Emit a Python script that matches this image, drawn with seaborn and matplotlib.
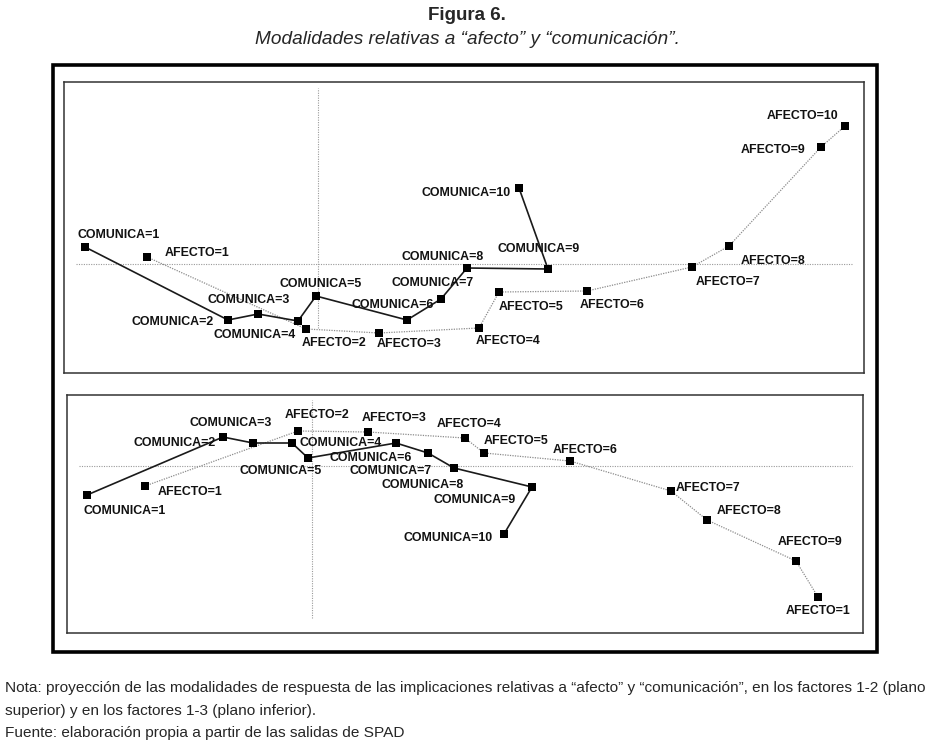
import numpy as np
import matplotlib
matplotlib.use('Agg')
import matplotlib.pyplot as plt
import pandas as pd
import seaborn as sns
from matplotlib import font_manager
from matplotlib.patches import Rectangle

sns.set_style('white')
plt.rcParams['font.family'] = ['Liberation Sans', 'DejaVu Sans']

# ---- datos (plano factorial 1-2, arriba) ----
niveles = list(range(1, 11))

com12_x = [-2.33, -0.90, -0.60, -0.20, -0.02, 0.89, 1.23, 1.49, 2.30, 2.01]
com12_y = [0.17, -0.56, -0.50, -0.57, -0.32, -0.56, -0.35, -0.04, -0.05, 0.76]
afe12_x = [-1.71, -0.12, 0.61, 1.61, 1.81, 2.69, 3.74, 4.11, 5.03, 5.27]
afe12_y = [0.07, -0.65, -0.69, -0.64, -0.28, -0.27, -0.03, 0.18, 1.17, 1.38]

# ---- plano factorial 1-3, abajo ----
com13_x = [-2.25, -0.89, -0.59, -0.20, -0.04, 0.84, 1.16, 1.42, 2.20, 1.92]
com13_y = [-0.29, 0.29, 0.23, 0.23, 0.08, 0.23, 0.13, -0.02, -0.21, -0.68]
afe13_x = [-1.67, -0.14, 0.56, 1.53, 1.72, 2.58, 3.59, 3.95, 4.84, 5.06]
afe13_y = [-0.20, 0.35, 0.34, 0.28, 0.13, 0.05, -0.25, -0.54, -0.95, -1.31]

etiq_com = ['COMUNICA=%d' % n for n in niveles]
etiq_afe12 = ['AFECTO=%d' % n for n in niveles]
etiq_afe13 = ['AFECTO=%d' % n for n in niveles[:-1]] + ['AFECTO=1']  # recortada en el original

# desplazamiento de etiquetas (px, y hacia abajo)
off_com12 = [(-8, -12), (-96, 2), (-51, -14), (-85, 14), (-37, -12), (-55, -15), (-49, -16), (-65, -11), (-50, -20), (-98, 5)]
off_afe12 = [(18, -4), (-4, 14), (-2, 11), (-3, 13), (0, 15), (-7, 14), (4, 15), (12, 15), (-80, 3), (-78, -10)]
off_com13 = [(-4, 16), (-89, 6), (-64, -20), (8, 0), (-69, 13), (-66, 15), (-78, 18), (-72, 17), (-98, 13), (-100, 4)]
off_afe13 = [(13, 6), (-13, -16), (-6, -14), (-28, -14), (0, -12), (-17, -11), (5, -3), (10, -9), (-18, -19), (-32, 14)]

W, H = 935, 749
fig = plt.figure(figsize=(W / 100, H / 100), dpi=100)


def caja(x0, y0, x1, y1):
    return [x0 / W, 1 - y1 / H, (x1 - x0) / W, (y1 - y0) / H]


def panel(ax, cx, cy, ax_, ay_, ecom, eafe, ocom, oafe, xlim, ylim, hx, vy):
    df_c = pd.DataFrame({'x': cx, 'y': cy})
    df_a = pd.DataFrame({'x': ax_, 'y': ay_})
    # ejes de referencia punteados
    ax.plot(hx, [0, 0], color='#9a9a9a', lw=0.8, ls=(0, (1, 1.2)), zorder=1)
    ax.plot([0, 0], vy, color='#9a9a9a', lw=0.8, ls=(0, (1, 1.2)), zorder=1)
    sns.lineplot(data=df_a, x='x', y='y', sort=False, estimator=None, ax=ax,
                 color='#8c8c8c', lw=0.9, ls=(0, (1, 1)), zorder=2)
    sns.lineplot(data=df_c, x='x', y='y', sort=False, estimator=None, ax=ax,
                 color='#1a1a1a', lw=1.2, zorder=3)
    for d in (df_a, df_c):
        sns.scatterplot(data=d, x='x', y='y', marker='s', s=32, color='black',
                        edgecolor='black', linewidth=0, ax=ax, zorder=4)
    for xs, ys, labs, offs in ((cx, cy, ecom, ocom), (ax_, ay_, eafe, oafe)):
        for x, y, t, (dx, dy) in zip(xs, ys, labs, offs):
            ax.annotate(t, (x, y), xytext=(dx, -dy), textcoords='offset pixels',
                        ha='left', va='center', fontsize=8.9, fontweight='bold',
                        color='#111111', zorder=5)
    ax.set_xlim(xlim)
    ax.set_ylim(ylim)
    ax.set_xticks([])
    ax.set_yticks([])
    ax.set_xlabel('')
    ax.set_ylabel('')
    for s in ax.spines.values():
        s.set_color('#333333')
        s.set_linewidth(1.1)


ax1 = fig.add_axes(caja(64, 82, 864, 373))
panel(ax1, com12_x, com12_y, afe12_x, afe12_y, etiq_com, etiq_afe12, off_com12, off_afe12,
      (-2.54, 5.46), (-1.09, 1.82), [-2.42, 5.35], [-0.64, 1.76])

ax2 = fig.add_axes(caja(67, 395, 863, 633))
panel(ax2, com13_x, com13_y, afe13_x, afe13_y, etiq_com, etiq_afe13, off_com13, off_afe13,
      (-2.45, 5.51), (-1.67, 0.71), [-2.33, 5.40], [-1.52, 0.66])

# marco exterior grueso
fig.patches.append(Rectangle((53 / W, 1 - 652 / H), (877 - 53) / W, (652 - 65) / H,
                             transform=fig.transFigure, fill=False, lw=2.6, ec='black'))

fig.text(467 / W, 1 - 15 / H, 'Figura 6.', ha='center', va='center', fontsize=13.5, fontweight='bold')
fig.text(467 / W, 1 - 39 / H, 'Modalidades relativas a \u201cafecto\u201d y \u201ccomunicaci\u00f3n\u201d.',
         ha='center', va='center', fontsize=13.7, style='italic')

# nota al pie (fuente estrecha si existe)
nombres = {f.name for f in font_manager.fontManager.ttflist}
fam_nota = 'Liberation Sans Narrow' if 'Liberation Sans Narrow' in nombres else 'Liberation Sans'
nota = ['Nota: proyecci\u00f3n de las modalidades de respuesta de las implicaciones relativas a \u201cafecto\u201d y \u201ccomunicaci\u00f3n\u201d, en los factores 1-2 (plano',
        'superior) y en los factores 1-3 (plano inferior).',
        'Fuente: elaboraci\u00f3n propia a partir de las salidas de SPAD']
ys = [688, 711, 733]
t0 = fig.text(5 / W, 1 - ys[0] / H, nota[0], ha='left', va='center', fontsize=11, family=fam_nota)
fig.canvas.draw()
ancho = t0.get_window_extent().width
tam = 11 * 918 / ancho
t0.set_fontsize(tam)
for linea, y in zip(nota[1:], ys[1:]):
    fig.text(5 / W, 1 - y / H, linea, ha='left', va='center', fontsize=tam, family=fam_nota)

fig.savefig('out.png', dpi=100)
